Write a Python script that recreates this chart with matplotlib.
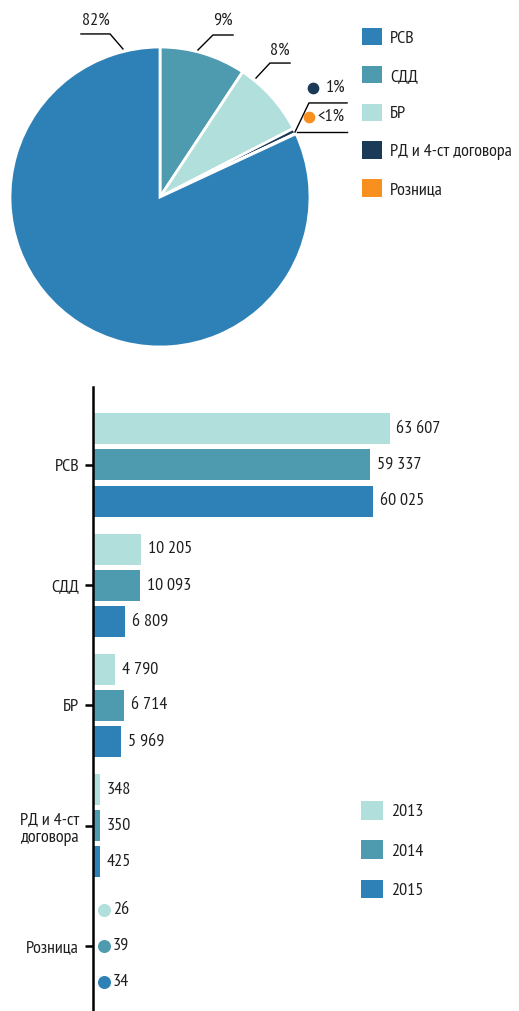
import numpy as np
import matplotlib
matplotlib.use("Agg")
import matplotlib.pyplot as plt
import matplotlib.transforms as mtransforms
from matplotlib import font_manager
from matplotlib.patches import Patch


def pick_narrow_cyrillic():
    """Find a regular narrow/condensed sans face that has Cyrillic glyphs."""
    best = None
    for f in font_manager.fontManager.ttflist:
        if "Serif" in f.name or "Mono" in f.name:
            continue
        narrowish = ("Narrow" in f.name or "Condensed" in f.name
                     or str(f.stretch) in ("condensed", "semi-condensed"))
        if not narrowish or f.style != "normal" or f.weight not in (400, "normal", "regular"):
            continue
        try:
            cmap = font_manager.get_font(f.fname).get_charmap()
        except Exception:
            continue
        if all(ord(c) in cmap for c in "РСВДдоговора"):
            score = 0 if "Narrow" in f.name else 1
            if best is None or score < best[0]:
                best = (score, f)
    return best[1] if best else None


nf = pick_narrow_cyrillic()
if nf is not None:
    plt.rcParams["font.family"] = [nf.name, "DejaVu Sans"]
    if str(nf.stretch) in ("condensed", "semi-condensed"):
        plt.rcParams["font.stretch"] = nf.stretch
    FS = 13
else:
    plt.rcParams["font.family"] = ["DejaVu Sans"]
    FS = 10

# ---------------------------------------------------------------------------
# Data
# ---------------------------------------------------------------------------
SEGMENTS   = ["РСВ", "СДД", "БР", "РД и 4-ст договора", "Розница"]
PIE_SHARE  = [60025, 6809, 5969, 425, 34]          # 2015 volumes -> shares
PIE_LABELS = ["82%", "9%", "8%", "1%", "<1%"]

CATEGORIES = ["РСВ", "СДД", "БР", "РД и 4-ст\nдоговора", "Розница"]
YEARS      = ["2013", "2014", "2015"]
V2013      = [63607, 10205, 4790, 348, 26]
V2014      = [59337, 10093, 6714, 350, 39]
V2015      = [60025, 6809, 5969, 425, 34]

# ---------------------------------------------------------------------------
# Style
# ---------------------------------------------------------------------------
C_RSV   = "#2e81b6"
C_SDD   = "#4e9bb0"
C_BR    = "#b1dfdb"
C_RD    = "#1b3a57"
C_RET   = "#f7901e"
SEG_COLORS  = [C_RSV, C_SDD, C_BR, C_RD, C_RET]
YEAR_COLORS = [C_BR, C_SDD, C_RSV]
TXT = "#1e1e1e"

W, H = 519, 1011
fig = plt.figure(figsize=(W / 100, H / 100), dpi=100)

def fx(px):
    return px / W

def fy(py):
    return 1 - py / H

# ---------------------------------------------------------------------------
# Pie (clockwise from 12 o'clock, РСВ last)
# ---------------------------------------------------------------------------
ax_pie = fig.add_axes([fx(10), fy(347), 300 / W, 300 / H])
order = [1, 2, 3, 4, 0]
wedges, _ = ax_pie.pie(
    [PIE_SHARE[i] for i in order],
    colors=[SEG_COLORS[i] for i in order],
    startangle=90, counterclock=False, radius=1,
    wedgeprops=dict(edgecolor="white", linewidth=2),
)
ax_pie.set_xlim(-1, 1)
ax_pie.set_ylim(-1, 1)
ax_pie.set_aspect("equal")
ax_pie.axis("off")

# leader lines (pie data units, radius = 1)
leaders = {
    "82%": ([(-0.247, 0.987), (-0.333, 1.087), (-0.527, 1.087)], (-0.427, 1.177)),
    "9%":  ([(0.253, 0.980), (0.353, 1.080), (0.487, 1.080)], (0.420, 1.177)),
    "8%":  ([(0.640, 0.793), (0.733, 0.893), (0.867, 0.893)], (0.800, 0.973)),
}
for lab, (pts, tpos) in leaders.items():
    xs, ys = zip(*pts)
    ax_pie.plot(xs, ys, color="black", lw=1, clip_on=False)
    ax_pie.text(*tpos, lab, ha="center", va="center", fontsize=FS,
                color=TXT, clip_on=False)

ax_pie.plot([0.90, 0.993, 1.247], [0.433, 0.627, 0.627], color="black", lw=1, clip_on=False)
ax_pie.plot([0.913, 1.247], [0.433, 0.433], color="black", lw=1, clip_on=False)
for (dx, dy, tx), lab, col in zip([(1.02, 0.727, 1.105), (0.993, 0.533, 1.05)],
                                  PIE_LABELS[3:], SEG_COLORS[3:]):
    ax_pie.scatter([dx], [dy], s=55, color=col, clip_on=False, zorder=3)
    ax_pie.text(tx, dy, lab, ha="left", va="center", fontsize=FS,
                color=TXT, clip_on=False)

px_fs = FS * 100 / 72
seg_handles = [Patch(facecolor=c, edgecolor="none") for c in SEG_COLORS]
fig.legend(
    seg_handles, SEGMENTS, loc="upper left",
    bbox_to_anchor=(fx(362), fy(28)), frameon=False, fontsize=FS,
    handlelength=20 / px_fs, handleheight=20 / px_fs,
    handletextpad=0.45, labelspacing=1.05, borderpad=0, borderaxespad=0,
    labelcolor=TXT,
)

# ---------------------------------------------------------------------------
# Grouped horizontal bars
# ---------------------------------------------------------------------------
ax = fig.add_axes([fx(93), 0, 1 - fx(93), (1011 - 387) / H])
y = np.arange(len(CATEGORIES))
step, bar_h = 0.30, 0.258
min_w = 1500                     # tiny bars are drawn with a minimum width
dot_cat = "Розница"              # too small for bars, shown as dots

dot_tr = mtransforms.offset_copy(ax.transData, fig=fig, x=11, y=0, units="dots")
for k, (vals, col) in enumerate(zip([V2013, V2014, V2015], YEAR_COLORS)):
    ypos = y + (k - 1) * step
    for yi, v, cat in zip(ypos, vals, CATEGORIES):
        lbl = f"{v:,}".replace(",", " ")
        if cat == dot_cat:
            ax.scatter([0], [yi], s=70, color=col, transform=dot_tr,
                       clip_on=False, zorder=3)
            ax.annotate(lbl, (0, yi), xytext=(20, 0), textcoords="offset pixels",
                        ha="left", va="center", fontsize=FS, color=TXT)
        else:
            w = max(v, min_w)
            ax.barh(yi, w, height=bar_h, color=col, left=0)
            ax.annotate(lbl, (w, yi), xytext=(7, 0), textcoords="offset pixels",
                        ha="left", va="center", fontsize=FS, color=TXT)

ax.set_xlim(0, (W - 93) / 296.5 * 63607)
ax.set_ylim(4.54, -0.648)
ax.set_yticks(y)
ax.set_yticklabels(CATEGORIES, fontsize=FS, color=TXT, linespacing=1.2)
ax.tick_params(axis="y", length=6, width=1.8, pad=4)
ax.set_xticks([])
for s in ["top", "right", "bottom"]:
    ax.spines[s].set_visible(False)
ax.spines["left"].set_linewidth(1.8)

year_handles = [Patch(facecolor=c, edgecolor="none") for c in YEAR_COLORS]
fig.legend(
    year_handles, YEARS, loc="upper left",
    bbox_to_anchor=(fx(361), fy(801)), frameon=False, fontsize=FS,
    handlelength=22 / px_fs, handleheight=22 / px_fs,
    handletextpad=0.45, labelspacing=1.1, borderpad=0, borderaxespad=0,
    labelcolor=TXT,
)

fig.savefig("out.png", dpi=100)
